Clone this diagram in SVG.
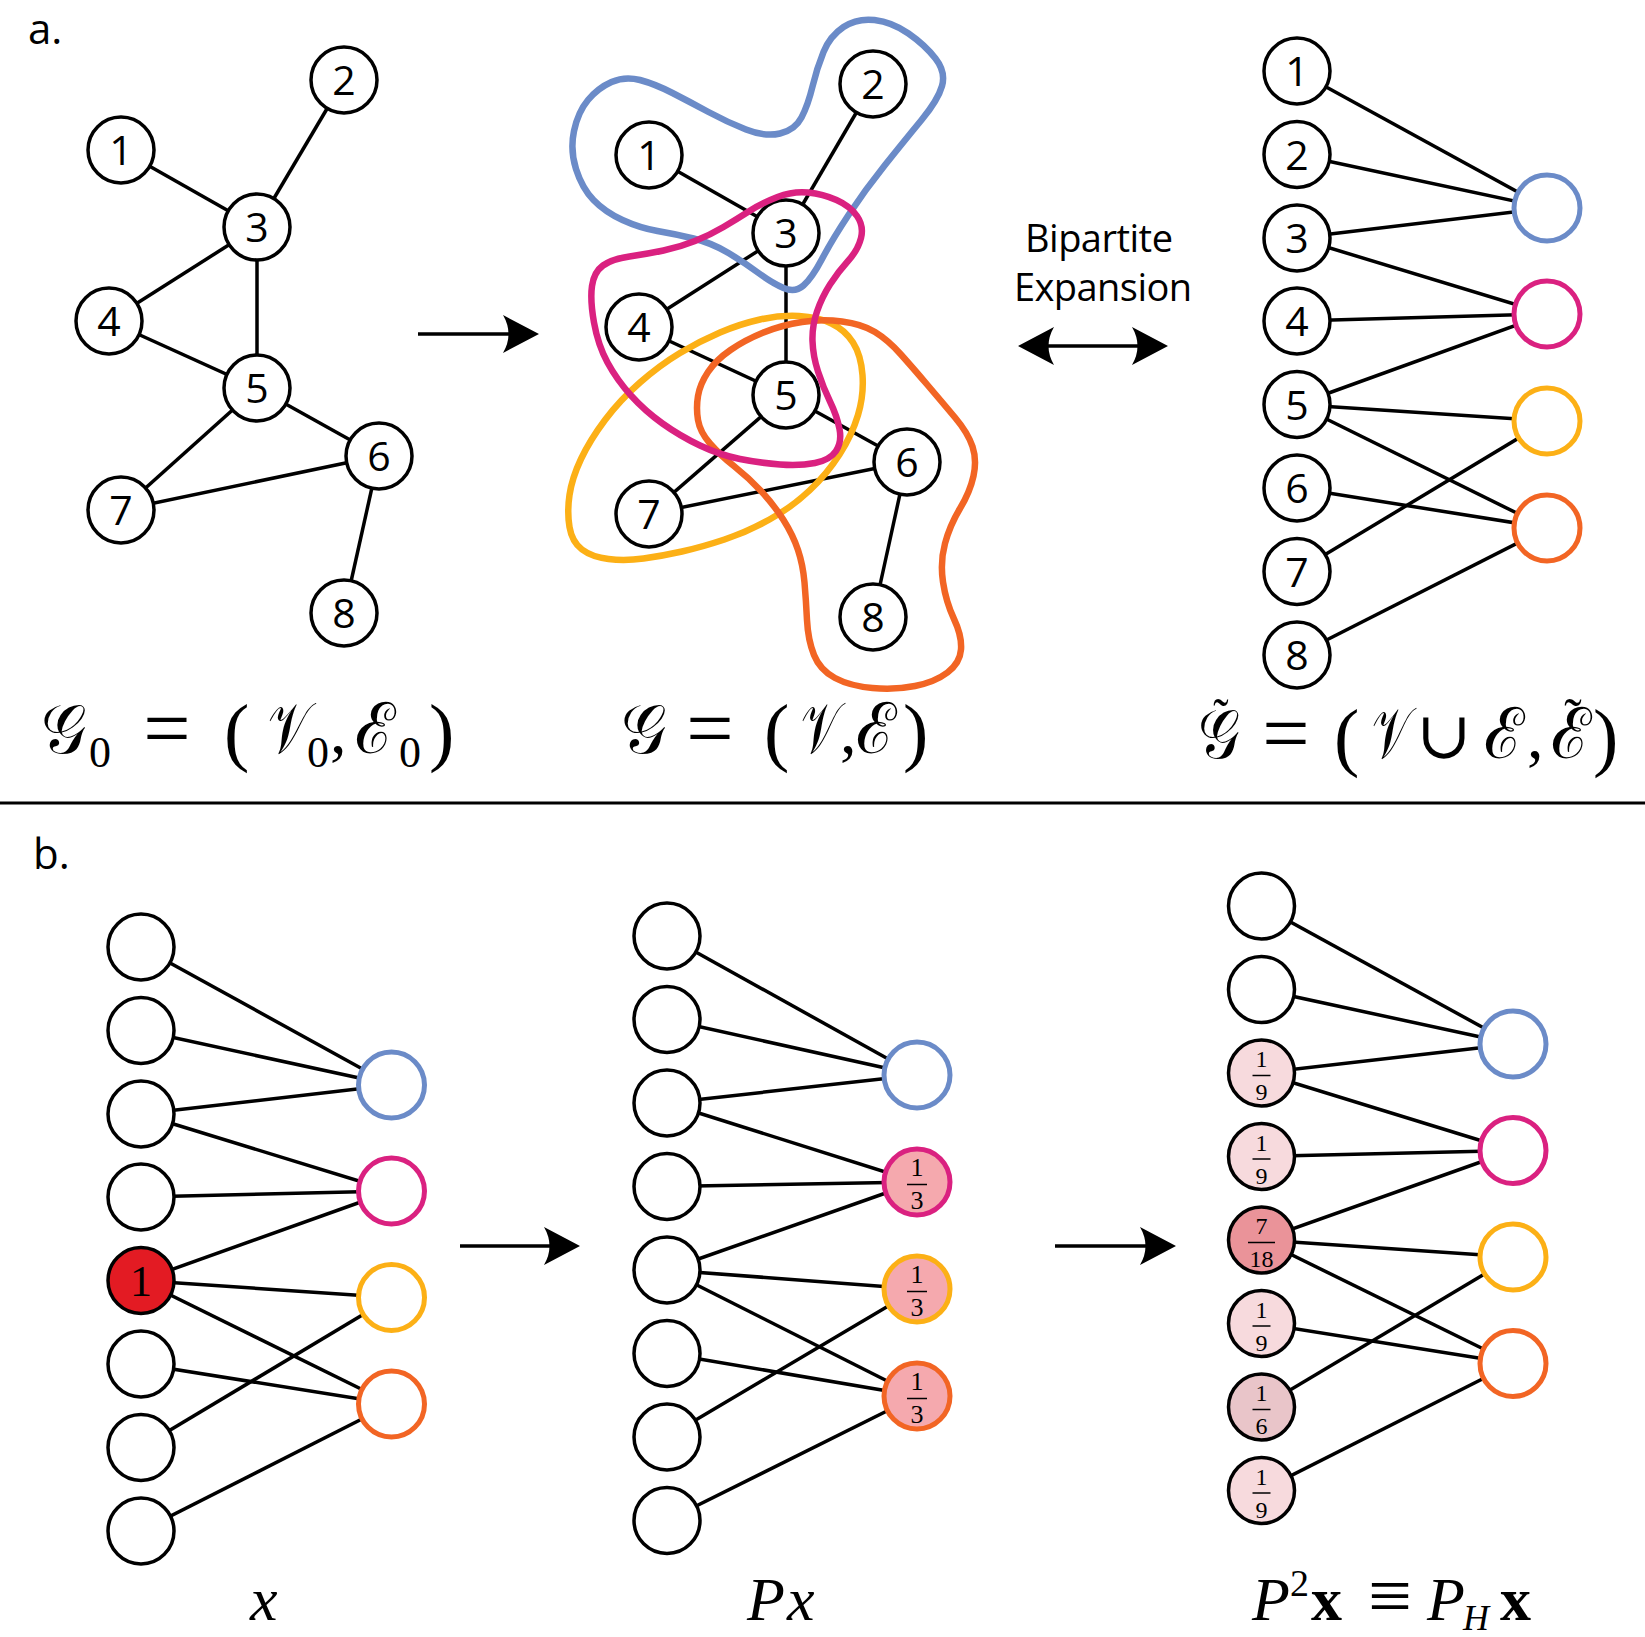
<svg xmlns="http://www.w3.org/2000/svg" width="1645" height="1637" viewBox="0 0 1645 1637">
<style>
.bg{fill:#fff}
.n{fill:#fff;stroke:#000;stroke-width:3.5}
.e{stroke:#000;stroke-width:3.5;fill:none}
.num{font-family:"Open Sans","Liberation Sans",sans-serif;font-size:41px;text-anchor:middle;fill:#000}
.hb{fill:#fff;stroke:#6B8BC8;stroke-width:5}
.hp{fill:#fff;stroke:#DA2180;stroke-width:5}
.hy{fill:#fff;stroke:#FCB016;stroke-width:5}
.ho{fill:#fff;stroke:#F26524;stroke-width:5}
.cb{fill:none;stroke:#6B8BC8;stroke-width:6.5}
.cp{fill:none;stroke:#DA2180;stroke-width:6.5}
.cy{fill:none;stroke:#FCB016;stroke-width:6.5}
.co{fill:none;stroke:#F26524;stroke-width:6.5}
.fr{font-family:"Liberation Serif","DejaVu Serif",serif;font-size:24px;text-anchor:middle;fill:#000}
.fr2{font-family:"Liberation Serif","DejaVu Serif",serif;font-size:26px;text-anchor:middle;fill:#000}
.bar{stroke:#000;stroke-width:1.5}
.sc{font-family:"DejaVu Serif","Liberation Serif",serif;font-size:64px;fill:#000}
.tl{font-family:"Liberation Serif","DejaVu Serif",serif;font-size:50px;text-anchor:middle}
.m{font-family:"Liberation Serif","DejaVu Serif",serif;font-size:66px;fill:#000}
.eq{font-family:"Liberation Serif","DejaVu Serif",serif;font-size:84px;fill:#000;text-anchor:middle}
.par{font-family:"Liberation Serif","DejaVu Serif",serif;font-size:76px;fill:#000}
.ms{font-family:"Liberation Serif","DejaVu Serif",serif;font-size:44px;fill:#000}
.mi{font-family:"Liberation Serif","DejaVu Serif",serif;font-size:62px;font-style:italic;fill:#000}
.mb{font-family:"Liberation Serif","DejaVu Serif",serif;font-size:62px;font-weight:bold;fill:#000}
.lab{font-family:"Open Sans","Liberation Sans",sans-serif;font-size:42px;fill:#000}
.txt{font-family:"Open Sans","Liberation Sans",sans-serif;font-size:38px;fill:#000;text-anchor:middle}
.arr{stroke:#000;stroke-width:3.5;fill:none}
</style>
<defs>
<marker id="head" markerUnits="userSpaceOnUse" markerWidth="38" markerHeight="40" refX="8" refY="19" orient="auto-start-reverse" viewBox="0 0 38 40">
<path d="M0,0 L36,19 L0,38 Q11,19 0,0 Z" fill="#000"/>
</marker>
</defs>
<rect class="bg" x="0" y="0" width="1645" height="1637"/>

<text class="lab" x="28" y="44">a.</text>
<text class="lab" x="33" y="869">b.</text>
<line x1="0" y1="803" x2="1645" y2="803" stroke="#000" stroke-width="3"/>

<g id="connectors">
<!-- a1 -->
<line class="e" x1="121" y1="150" x2="257" y2="227"/>
<line class="e" x1="344" y1="80" x2="257" y2="227"/>
<line class="e" x1="257" y1="227" x2="109" y2="321"/>
<line class="e" x1="257" y1="227" x2="257" y2="388"/>
<line class="e" x1="109" y1="321" x2="257" y2="388"/>
<line class="e" x1="257" y1="388" x2="379" y2="456"/>
<line class="e" x1="257" y1="388" x2="121" y2="510"/>
<line class="e" x1="379" y1="456" x2="121" y2="510"/>
<line class="e" x1="379" y1="456" x2="344" y2="613"/>
<!-- a2 -->
<line class="e" x1="649" y1="155" x2="786" y2="233"/>
<line class="e" x1="873" y1="84" x2="786" y2="233"/>
<line class="e" x1="786" y1="233" x2="639" y2="327"/>
<line class="e" x1="786" y1="233" x2="786" y2="395"/>
<line class="e" x1="639" y1="327" x2="786" y2="395"/>
<line class="e" x1="786" y1="395" x2="907" y2="462"/>
<line class="e" x1="786" y1="395" x2="649" y2="514"/>
<line class="e" x1="907" y1="462" x2="649" y2="514"/>
<line class="e" x1="907" y1="462" x2="873" y2="617"/>
<!-- a3 -->
<line class="e" x1="1297" y1="71" x2="1547" y2="208"/>
<line class="e" x1="1297" y1="154.5" x2="1547" y2="208"/>
<line class="e" x1="1297" y1="238" x2="1547" y2="208"/>
<line class="e" x1="1297" y1="238" x2="1547" y2="314"/>
<line class="e" x1="1297" y1="321" x2="1547" y2="314"/>
<line class="e" x1="1297" y1="404.5" x2="1547" y2="314"/>
<line class="e" x1="1297" y1="404.5" x2="1547" y2="421"/>
<line class="e" x1="1297" y1="404.5" x2="1547" y2="528"/>
<line class="e" x1="1297" y1="488" x2="1547" y2="528"/>
<line class="e" x1="1297" y1="571.5" x2="1547" y2="421"/>
<line class="e" x1="1297" y1="655" x2="1547" y2="528"/>
<!-- b1 -->
<line class="e" x1="141" y1="947" x2="391.5" y2="1085"/>
<line class="e" x1="141" y1="1030.5" x2="391.5" y2="1085"/>
<line class="e" x1="141" y1="1114" x2="391.5" y2="1085"/>
<line class="e" x1="141" y1="1114" x2="391.5" y2="1191"/>
<line class="e" x1="141" y1="1197" x2="391.5" y2="1191"/>
<line class="e" x1="141" y1="1280.5" x2="391.5" y2="1191"/>
<line class="e" x1="141" y1="1280.5" x2="391.5" y2="1297.5"/>
<line class="e" x1="141" y1="1280.5" x2="391.5" y2="1404"/>
<line class="e" x1="141" y1="1364" x2="391.5" y2="1404"/>
<line class="e" x1="141" y1="1447.5" x2="391.5" y2="1297.5"/>
<line class="e" x1="141" y1="1531" x2="391.5" y2="1404"/>
<!-- b2 -->
<line class="e" x1="667" y1="936" x2="917" y2="1075"/>
<line class="e" x1="667" y1="1019.5" x2="917" y2="1075"/>
<line class="e" x1="667" y1="1103" x2="917" y2="1075"/>
<line class="e" x1="667" y1="1103" x2="917" y2="1182"/>
<line class="e" x1="667" y1="1186.5" x2="917" y2="1182"/>
<line class="e" x1="667" y1="1270" x2="917" y2="1182"/>
<line class="e" x1="667" y1="1270" x2="917" y2="1289"/>
<line class="e" x1="667" y1="1270" x2="917" y2="1396"/>
<line class="e" x1="667" y1="1353.5" x2="917" y2="1396"/>
<line class="e" x1="667" y1="1437" x2="917" y2="1289"/>
<line class="e" x1="667" y1="1520.5" x2="917" y2="1396"/>
<!-- b3 -->
<line class="e" x1="1261.5" y1="906" x2="1513" y2="1044"/>
<line class="e" x1="1261.5" y1="989.5" x2="1513" y2="1044"/>
<line class="e" x1="1261.5" y1="1073" x2="1513" y2="1044"/>
<line class="e" x1="1261.5" y1="1073" x2="1513" y2="1150.5"/>
<line class="e" x1="1261.5" y1="1156.5" x2="1513" y2="1150.5"/>
<line class="e" x1="1261.5" y1="1240" x2="1513" y2="1150.5"/>
<line class="e" x1="1261.5" y1="1240" x2="1513" y2="1257"/>
<line class="e" x1="1261.5" y1="1240" x2="1513" y2="1363.5"/>
<line class="e" x1="1261.5" y1="1323.5" x2="1513" y2="1363.5"/>
<line class="e" x1="1261.5" y1="1407" x2="1513" y2="1257"/>
<line class="e" x1="1261.5" y1="1490.5" x2="1513" y2="1363.5"/>
<!-- arrows -->
<line class="arr" x1="418" y1="334" x2="511" y2="334" marker-end="url(#head)"/>
<line class="arr" x1="1046" y1="346" x2="1140" y2="346" marker-start="url(#head)" marker-end="url(#head)"/>
<line class="arr" x1="460" y1="1246" x2="552" y2="1246" marker-end="url(#head)"/>
<line class="arr" x1="1055" y1="1246" x2="1148" y2="1246" marker-end="url(#head)"/>
</g>

<!-- a1 nodes -->
<g id="a1-n1"><circle class="n" cx="121" cy="150" r="33"/><text class="num" x="121" y="165">1</text></g>
<g id="a1-n2"><circle class="n" cx="344" cy="80" r="33"/><text class="num" x="344" y="95">2</text></g>
<g id="a1-n3"><circle class="n" cx="257" cy="227" r="33"/><text class="num" x="257" y="242">3</text></g>
<g id="a1-n4"><circle class="n" cx="109" cy="321" r="33"/><text class="num" x="109" y="336">4</text></g>
<g id="a1-n5"><circle class="n" cx="257" cy="388" r="33"/><text class="num" x="257" y="403">5</text></g>
<g id="a1-n6"><circle class="n" cx="379" cy="456" r="33"/><text class="num" x="379" y="471">6</text></g>
<g id="a1-n7"><circle class="n" cx="121" cy="510" r="33"/><text class="num" x="121" y="525">7</text></g>
<g id="a1-n8"><circle class="n" cx="344" cy="613" r="33"/><text class="num" x="344" y="628">8</text></g>

<!-- a2 nodes -->
<g id="a2-n1"><circle class="n" cx="649" cy="155" r="33"/><text class="num" x="649" y="170">1</text></g>
<g id="a2-n2"><circle class="n" cx="873" cy="84" r="33"/><text class="num" x="873" y="99">2</text></g>
<g id="a2-n3"><circle class="n" cx="786" cy="233" r="33"/><text class="num" x="786" y="248">3</text></g>
<g id="a2-n4"><circle class="n" cx="639" cy="327" r="33"/><text class="num" x="639" y="342">4</text></g>
<g id="a2-n5"><circle class="n" cx="786" cy="395" r="33"/><text class="num" x="786" y="410">5</text></g>
<g id="a2-n6"><circle class="n" cx="907" cy="462" r="33"/><text class="num" x="907" y="477">6</text></g>
<g id="a2-n7"><circle class="n" cx="649" cy="514" r="33"/><text class="num" x="649" y="529">7</text></g>
<g id="a2-n8"><circle class="n" cx="873" cy="617" r="33"/><text class="num" x="873" y="632">8</text></g>

<!-- a2 hyperedges -->
<g id="a2-hyperedge-blue"><path class="cb" d="M576,169 Q570,150 574,131 Q578,112 588,100 Q598,88 611.5,82 Q625,76 640,80 Q655,84 672.5,93 Q690,102 708.5,112 Q727,122 746,129.5 Q765,137 780,133.5 Q795,130 801.5,117.5 Q808,105 812.5,86.5 Q817,68 823.5,52 Q830,36 843.5,27 Q857,18 874.5,20 Q892,22 908.5,33.5 Q925,45 935.5,58.5 Q946,72 942,86 Q938,100 921.5,120 Q905,140 885,165 Q865,190 848.5,215 Q832,240 822,259 Q812,278 803.5,285.5 Q795,293 783.5,288 Q772,283 758.5,273 Q745,263 728.5,253 Q712,243 693.5,238.5 Q675,234 657.5,231 Q640,228 622.5,220 Q605,212 593.5,200 Q582,188 576,169 Z"/></g>
<g id="a2-hyperedge-yellow"><path class="cy" d="M569.5,495 Q567,512 569.5,527 Q572,542 582,549.5 Q592,557 608.5,559 Q625,561 643.5,558.5 Q662,556 682,551.5 Q702,547 724.5,539.5 Q747,532 769.5,519.5 Q792,507 809.5,490.5 Q827,474 839.5,454.5 Q852,435 858,415 Q864,395 862.5,375 Q861,355 853,342.5 Q845,330 831.5,323.5 Q818,317 799,316 Q780,315 760,319.5 Q740,324 720,332.5 Q700,341 680,353 Q660,365 640,382.5 Q620,400 605,420 Q590,440 581,459 Q572,478 569.5,495 Z"/></g>
<g id="a2-hyperedge-orange"><path class="co" d="M698,420 Q696,408 698,396 Q700,384 708,372 Q716,360 730.5,350 Q745,340 763.5,332.5 Q782,325 802,322 Q822,319 842,321.5 Q862,324 875,332 Q888,340 900.5,354 Q913,368 927.5,385 Q942,402 955,417.5 Q968,433 972.5,446.5 Q977,460 973.5,476 Q970,492 960,508.5 Q950,525 945,543.5 Q940,562 943,582 Q946,602 954,619 Q962,636 961,649.5 Q960,663 947.5,672.5 Q935,682 915,686 Q895,690 872.5,688 Q850,686 835,678 Q820,670 814,655 Q808,640 807,620 Q806,600 804.5,582.5 Q803,565 798,550 Q793,535 783.5,520 Q774,505 761.5,491.5 Q749,478 734.5,466.5 Q720,455 710,443.5 Q700,432 698,420 Z"/></g>
<g id="a2-hyperedge-pink"><path class="cp" d="M594,322.5 Q590,300 592,286 Q594,272 603,265.5 Q612,259 629.5,256.5 Q647,254 663.5,250.5 Q680,247 695,241 Q710,235 723.5,227 Q737,219 749.5,211 Q762,203 777.5,197 Q793,191 808,192.5 Q823,194 836.5,200 Q850,206 857,216 Q864,226 861,238 Q858,250 848,261 Q838,272 830,284.5 Q822,297 817,311.5 Q812,326 812.5,341 Q813,356 818,371.5 Q823,387 830,401.5 Q837,416 839.5,429 Q842,442 836,451 Q830,460 815,463 Q800,466 780,464.5 Q760,463 740,459 Q720,455 700,445.5 Q680,436 662.5,423.5 Q645,411 631,395.5 Q617,380 607.5,362.5 Q598,345 594,322.5 Z"/></g>

<text class="txt" x="1099" y="252" textLength="148" lengthAdjust="spacing">Bipartite</text>
<text class="txt" x="1103" y="301" textLength="178" lengthAdjust="spacing">Expansion</text>

<!-- a3 nodes -->
<g id="a3-n1"><circle class="n" cx="1297" cy="71" r="33"/><text class="num" x="1297" y="86">1</text></g>
<g id="a3-n2"><circle class="n" cx="1297" cy="154.5" r="33"/><text class="num" x="1297" y="169.5">2</text></g>
<g id="a3-n3"><circle class="n" cx="1297" cy="238" r="33"/><text class="num" x="1297" y="253">3</text></g>
<g id="a3-n4"><circle class="n" cx="1297" cy="321" r="33"/><text class="num" x="1297" y="336">4</text></g>
<g id="a3-n5"><circle class="n" cx="1297" cy="404.5" r="33"/><text class="num" x="1297" y="419.5">5</text></g>
<g id="a3-n6"><circle class="n" cx="1297" cy="488" r="33"/><text class="num" x="1297" y="503">6</text></g>
<g id="a3-n7"><circle class="n" cx="1297" cy="571.5" r="33"/><text class="num" x="1297" y="586.5">7</text></g>
<g id="a3-n8"><circle class="n" cx="1297" cy="655" r="33"/><text class="num" x="1297" y="670">8</text></g>
<g id="a3-eb"><circle class="hb" cx="1547" cy="208" r="33"/></g>
<g id="a3-ep"><circle class="hp" cx="1547" cy="314" r="33"/></g>
<g id="a3-ey"><circle class="hy" cx="1547" cy="421" r="33"/></g>
<g id="a3-eo"><circle class="ho" cx="1547" cy="528" r="33"/></g>

<!-- formulas panel a -->
<g id="formula-a1">
<text class="sc" transform="translate(41,753) scale(1,1.1)">𝒢</text><text class="ms" x="89" y="767">0</text>
<text class="eq" x="167" y="757">=</text>
<text class="par" x="224" y="757">(</text>
<text class="sc" transform="translate(268,753) scale(0.78,1.12)">𝒱</text><text class="ms" x="307" y="767">0</text>
<text class="m" x="330" y="753">,</text>
<text class="sc" transform="translate(355,753) scale(1.05,1.1)">ℰ</text><text class="ms" x="399" y="767">0</text>
<text class="par" x="429" y="757">)</text>
</g>
<g id="formula-a2">
<text class="sc" transform="translate(621,753) scale(1,1.1)">𝒢</text>
<text class="eq" x="710" y="757">=</text>
<text class="par" x="764" y="757">(</text>
<text class="sc" transform="translate(801,753) scale(0.72,1.12)">𝒱</text>
<text class="m" x="840" y="753">,</text>
<text class="sc" transform="translate(856,753) scale(1.05,1.1)">ℰ</text>
<text class="par" x="903" y="757">)</text>
</g>
<g id="formula-a3">
<text class="sc" transform="translate(1198,758) scale(0.92,1.1)">𝒢<tspan class="tl" x="25" y="-20">˜</tspan></text>
<text class="eq" x="1286" y="762">=</text>
<text class="par" x="1334" y="762">(</text>
<text class="sc" transform="translate(1372,758) scale(0.72,1.12)">𝒱</text>
<text class="m" x="1444" y="758" text-anchor="middle">∪</text>
<text class="sc" transform="translate(1484,758) scale(1.05,1.1)">ℰ</text>
<text class="m" x="1527" y="758">,</text>
<text class="sc" transform="translate(1551,758) scale(1.05,1.1)">ℰ<tspan class="tl" x="21" y="-20">˜</tspan></text>
<text class="par" x="1593" y="762">)</text>
</g>

<!-- b1 nodes -->
<g id="b1-n1"><circle class="n" cx="141" cy="947" r="33"/></g>
<g id="b1-n2"><circle class="n" cx="141" cy="1030.5" r="33"/></g>
<g id="b1-n3"><circle class="n" cx="141" cy="1114" r="33"/></g>
<g id="b1-n4"><circle class="n" cx="141" cy="1197" r="33"/></g>
<g id="b1-n5"><circle class="n" cx="141" cy="1280.5" r="33" style="fill:#E31B23"/><text class="fr" x="141" y="1296" style="font-size:44px">1</text></g>
<g id="b1-n6"><circle class="n" cx="141" cy="1364" r="33"/></g>
<g id="b1-n7"><circle class="n" cx="141" cy="1447.5" r="33"/></g>
<g id="b1-n8"><circle class="n" cx="141" cy="1531" r="33"/></g>
<g id="b1-eb"><circle class="hb" cx="391.5" cy="1085" r="33"/></g>
<g id="b1-ep"><circle class="hp" cx="391.5" cy="1191" r="33"/></g>
<g id="b1-ey"><circle class="hy" cx="391.5" cy="1297.5" r="33"/></g>
<g id="b1-eo"><circle class="ho" cx="391.5" cy="1404" r="33"/></g>

<!-- b2 nodes -->
<g id="b2-n1"><circle class="n" cx="667" cy="936" r="33"/></g>
<g id="b2-n2"><circle class="n" cx="667" cy="1019.5" r="33"/></g>
<g id="b2-n3"><circle class="n" cx="667" cy="1103" r="33"/></g>
<g id="b2-n4"><circle class="n" cx="667" cy="1186.5" r="33"/></g>
<g id="b2-n5"><circle class="n" cx="667" cy="1270" r="33"/></g>
<g id="b2-n6"><circle class="n" cx="667" cy="1353.5" r="33"/></g>
<g id="b2-n7"><circle class="n" cx="667" cy="1437" r="33"/></g>
<g id="b2-n8"><circle class="n" cx="667" cy="1520.5" r="33"/></g>
<g id="b2-eb"><circle class="hb" cx="917" cy="1075" r="33"/></g>
<g id="b2-ep"><circle class="hp" cx="917" cy="1182" r="33" style="fill:#F5A9AE"/><text class="fr2" x="917" y="1176">1</text><line class="bar" x1="907" y1="1184.5" x2="927" y2="1184.5"/><text class="fr2" x="917" y="1209">3</text></g>
<g id="b2-ey"><circle class="hy" cx="917" cy="1289" r="33" style="fill:#F5A9AE"/><text class="fr2" x="917" y="1283">1</text><line class="bar" x1="907" y1="1291.5" x2="927" y2="1291.5"/><text class="fr2" x="917" y="1316">3</text></g>
<g id="b2-eo"><circle class="ho" cx="917" cy="1396" r="33" style="fill:#F5A9AE"/><text class="fr2" x="917" y="1390">1</text><line class="bar" x1="907" y1="1398.5" x2="927" y2="1398.5"/><text class="fr2" x="917" y="1423">3</text></g>

<!-- b3 nodes -->
<g id="b3-n1"><circle class="n" cx="1261.5" cy="906" r="33"/></g>
<g id="b3-n2"><circle class="n" cx="1261.5" cy="989.5" r="33"/></g>
<g id="b3-n3"><circle class="n" cx="1261.5" cy="1073" r="33" style="fill:#F7DADD"/><text class="fr" x="1261.5" y="1067">1</text><line class="bar" x1="1252.5" y1="1075.5" x2="1270.5" y2="1075.5"/><text class="fr" x="1261.5" y="1100">9</text></g>
<g id="b3-n4"><circle class="n" cx="1261.5" cy="1156.5" r="33" style="fill:#F7DADD"/><text class="fr" x="1261.5" y="1150.5">1</text><line class="bar" x1="1252.5" y1="1159" x2="1270.5" y2="1159"/><text class="fr" x="1261.5" y="1183.5">9</text></g>
<g id="b3-n5"><circle class="n" cx="1261.5" cy="1240" r="33" style="fill:#EA9399"/><text class="fr" x="1261.5" y="1234">7</text><line class="bar" x1="1248" y1="1242.5" x2="1275" y2="1242.5"/><text class="fr" x="1261.5" y="1267">18</text></g>
<g id="b3-n6"><circle class="n" cx="1261.5" cy="1323.5" r="33" style="fill:#F7DADD"/><text class="fr" x="1261.5" y="1317.5">1</text><line class="bar" x1="1252.5" y1="1326" x2="1270.5" y2="1326"/><text class="fr" x="1261.5" y="1350.5">9</text></g>
<g id="b3-n7"><circle class="n" cx="1261.5" cy="1407" r="33" style="fill:#E9C5C9"/><text class="fr" x="1261.5" y="1401">1</text><line class="bar" x1="1252.5" y1="1409.5" x2="1270.5" y2="1409.5"/><text class="fr" x="1261.5" y="1434">6</text></g>
<g id="b3-n8"><circle class="n" cx="1261.5" cy="1490.5" r="33" style="fill:#F7DADD"/><text class="fr" x="1261.5" y="1484.5">1</text><line class="bar" x1="1252.5" y1="1493" x2="1270.5" y2="1493"/><text class="fr" x="1261.5" y="1517.5">9</text></g>
<g id="b3-eb"><circle class="hb" cx="1513" cy="1044" r="33"/></g>
<g id="b3-ep"><circle class="hp" cx="1513" cy="1150.5" r="33"/></g>
<g id="b3-ey"><circle class="hy" cx="1513" cy="1257" r="33"/></g>
<g id="b3-eo"><circle class="ho" cx="1513" cy="1363.5" r="33"/></g>

<!-- bottom labels -->
<g id="label-x"><text class="mi" x="250" y="1620">x</text></g>
<g id="label-Px"><text class="mi" x="747" y="1620">P</text><text class="mi" x="787" y="1620">x</text></g>
<g id="label-P2x">
<text class="mi" x="1252" y="1620">P</text>
<text class="ms" x="1290" y="1596" style="font-size:38px">2</text>
<text class="mb" x="1311" y="1620">x</text>
<text class="m" x="1390" y="1622" text-anchor="middle" style="font-size:78px">≡</text>
<text class="mi" x="1427" y="1620">P</text>
<text class="mi" x="1463" y="1630" style="font-size:36px">H</text>
<text class="mb" x="1500" y="1620">x</text>
</g>
</svg>
